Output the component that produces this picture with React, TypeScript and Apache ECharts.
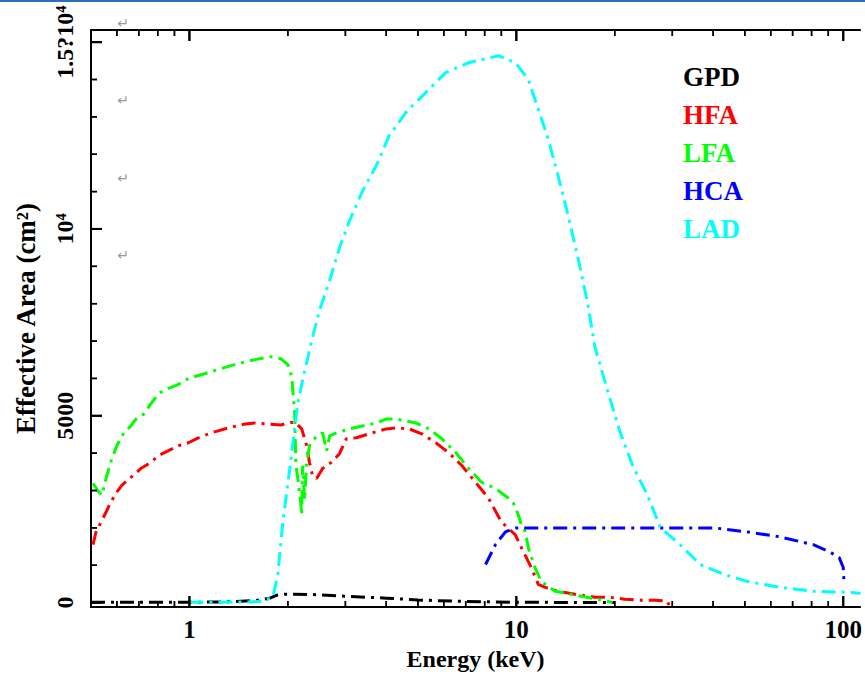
import React, { useEffect, useRef } from "react";
import * as echarts from "echarts";

// ---- data (energy in keV, effective area in cm^2) ----
const gpdE = [0.5, 0.7, 1.0, 1.3, 1.6, 1.75, 1.85, 1.95, 2.1, 2.5, 3.0, 4.0, 5.0, 7.0, 10, 14, 20];
const gpdA = [10, 10, 10, 20, 60, 110, 200, 225, 225, 210, 170, 120, 70, 30, 10, 5, 0];

const hfaE = [0.507, 0.518, 0.537, 0.556, 0.575, 0.596, 0.621, 0.662, 0.71, 0.761, 0.805, 0.863, 0.926, 0.993, 1.065, 1.166, 1.314, 1.48, 1.587, 1.739, 1.904, 2.0, 2.1, 2.205, 2.284, 2.33, 2.38, 2.45, 2.555, 2.74, 2.877, 3.02, 3.24, 3.62, 4.0, 4.29, 4.7, 5.14, 5.67, 6.21, 6.81, 7.51, 8.22, 9.0, 9.93, 10.36, 11.11, 11.67, 12.25, 13.42, 15.11, 17.38, 19.04, 21.45, 23.99, 26.45, 28.97, 29.4];
const hfaA = [1550, 1894, 2159, 2424, 2689, 2927, 3139, 3351, 3589, 3748, 3934, 4066, 4199, 4278, 4411, 4543, 4676, 4782, 4808, 4782, 4755, 4808, 4835, 4649, 4199, 3748, 3404, 3324, 3589, 3775, 3987, 4384, 4411, 4543, 4649, 4676, 4649, 4517, 4278, 4013, 3669, 3219, 2795, 2159, 1815, 1470, 940, 490, 410, 305, 225, 146, 146, 93, 66, 66, 40, -100];

const lfaE = [0.507, 0.529, 0.54, 0.559, 0.579, 0.6, 0.63, 0.662, 0.69, 0.725, 0.761, 0.805, 0.863, 0.926, 0.993, 1.118, 1.251, 1.409, 1.587, 1.763, 1.904, 2.0, 2.056, 2.07, 2.1, 2.115, 2.145, 2.19, 2.205, 2.22, 2.25, 2.28, 2.33, 2.45, 2.555, 2.63, 2.684, 2.818, 3.086, 3.38, 3.73, 4.0, 4.29, 4.6, 4.93, 5.4, 5.92, 6.53, 7.15, 7.83, 8.63, 9.46, 9.79, 10.14, 10.36, 10.65, 10.88, 11.4, 11.91, 12.25, 13.14, 13.7, 15.76, 17.76, 19.45, 19.7];
const lfaA = [3192, 2954, 2874, 3404, 3854, 4199, 4543, 4729, 4941, 5046, 5311, 5602, 5735, 5841, 6000, 6133, 6265, 6397, 6503, 6583, 6530, 6371, 6053, 5709, 5073, 3748, 3324, 2689, 2345, 3669, 2742, 3669, 4199, 4464, 4543, 4066, 4464, 4543, 4649, 4729, 4808, 4914, 4914, 4861, 4808, 4649, 4384, 4013, 3589, 3219, 3059, 2795, 2662, 2345, 2080, 1894, 1470, 940, 570, 490, 305, 278, 172, 93, 13, 0];

const hcaE = [8.05, 8.63, 9.26, 9.93, 11.1, 15.76, 25.2, 40.3, 50.7, 63.9, 81.0, 90.7, 97.2, 100, 100.5];
const hcaA = [1020, 1550, 1894, 2000, 2000, 2000, 2000, 2000, 1894, 1762, 1550, 1364, 1205, 940, 570];

const ladE = [1.0, 1.5, 1.68, 1.8, 1.864, 1.931, 2.028, 2.145, 2.221, 2.382, 2.5, 2.684, 2.877, 3.086, 3.38, 3.73, 4.08, 4.6, 5.29, 6.08, 7.15, 8.82, 9.93, 10.88, 11.67, 12.51, 13.42, 14.39, 15.43, 16.55, 17.38, 19.04, 20.71, 22.68, 25.19, 27.6, 31.7, 36.5, 43.2, 50.7, 63.9, 81.0, 102, 113];
const ladA = [10, 15, 40, 146, 755, 2159, 3589, 5338, 5974, 7113, 7828, 8623, 9497, 10212, 11007, 11695, 12490, 13126, 13656, 14185, 14450, 14636, 14450, 14000, 13205, 12411, 11430, 10371, 9232, 7987, 6848, 5656, 4596, 3669, 2874, 2000, 1550, 1020, 755, 570, 410, 305, 278, 252];

const seriesNames = ["GPD", "HFA", "LFA", "HCA", "LAD"];
const seriesColors = ["#000000", "#ff0000", "#00ff00", "#0000ff", "#00ffff"];

const yMinorTicks = [1000, 2000, 3000, 4000, 6000, 7000, 8000, 9000, 11000, 12000, 13000, 14000];
const yMajorTicks = [0, 5000, 10000, 15000];
const yTickLabels = ["0", "5000", "10⁴", "1.5?10⁴"];

const xMinorTicks = [0.6, 0.7, 0.8, 0.9, 2, 3, 4, 5, 6, 7, 8, 9, 20, 30, 40, 50, 60, 70, 80, 90];
const xMajorTicks = [1, 10, 100];

const X_MIN = 0.5;
const X_MAX = 112.6;
const Y_MIN = -120;
const Y_MAX = 15325;

const FONT = "Liberation Serif";
const MINOR_LEN = 6;
const MAJOR_LEN = 11;

// tick marks as thin rect symbols, placed by the axes' own scales
function tickSeries(data: number[][], size: number[], offset: number[]) {
  return {
    name: "GPD",
    type: "scatter",
    xAxisIndex: 0,
    yAxisIndex: 0,
    silent: true,
    clip: false,
    z: 5,
    symbol: "rect",
    symbolSize: size,
    symbolOffset: offset,
    itemStyle: { color: "#000000", opacity: 1 },
    data,
  };
}

export default function App() {
  const ref = useRef<HTMLDivElement>(null);

  useEffect(() => {
    document.body.style.margin = "0";
    if (!ref.current) return;
    const chart = echarts.init(ref.current, undefined, { renderer: "svg" });

    const sets = [
      [gpdE, gpdA],
      [hfaE, hfaA],
      [lfaE, lfaA],
      [hcaE, hcaA],
      [ladE, ladA],
    ];

    const baseGraphic: any[] = [
      { type: "rect", left: 0, top: 0, shape: { width: 865, height: 2 }, style: { fill: "#2a6fbb" }, silent: true },
      ...[23, 100, 178, 255].map((y) => ({
        type: "text",
        x: 123,
        y,
        style: {
          text: "↵",
          fill: "#9a9a9a",
          font: "14px 'DejaVu Sans'",
          textAlign: "center",
          textVerticalAlign: "middle",
        },
        silent: true,
      })),
    ];

    const makeOption = (graphic: any[]): any => ({
      animation: false,
      backgroundColor: "#ffffff",
      grid: { left: 91, right: 0, top: 30, bottom: 63, containLabel: false },
      legend: {
        orient: "vertical",
        left: 673,
        top: 57,
        itemWidth: 0,
        itemHeight: 0,
        itemGap: 8,
        selectedMode: false,
        textStyle: { fontFamily: FONT, fontWeight: "bold", fontSize: 27, lineHeight: 30 },
        data: seriesNames.map((n, i) => ({ name: n, icon: "none", textStyle: { color: seriesColors[i] } })),
      },
      xAxis: [
        {
          type: "log",
          logBase: 10,
          position: "bottom",
          min: X_MIN,
          max: X_MAX,
          name: "Energy (keV)",
          nameLocation: "middle",
          nameGap: 38,
          nameTextStyle: { fontFamily: FONT, fontWeight: "bold", fontSize: 24, color: "#000" },
          axisLine: { show: true, onZero: false, lineStyle: { color: "#000", width: 2 } },
          axisTick: { show: false },
          splitLine: { show: false },
          minorTick: { show: false },
          axisLabel: {
            show: true,
            showMinLabel: false,
            showMaxLabel: false,
            margin: 10,
            fontFamily: FONT,
            fontWeight: "bold",
            fontSize: 25,
            color: "#000",
            formatter: (v: number) => {
              const r = Math.round(v);
              return xMajorTicks.includes(r) && Math.abs(v - r) < 1e-6 ? String(r) : "";
            },
          },
        },
        {
          type: "log",
          logBase: 10,
          position: "top",
          min: X_MIN,
          max: X_MAX,
          axisLine: { show: true, onZero: false, lineStyle: { color: "#000", width: 2 } },
          axisTick: { show: false },
          axisLabel: { show: false },
          splitLine: { show: false },
          minorTick: { show: false },
        },
      ],
      yAxis: [
        {
          type: "value",
          position: "left",
          min: Y_MIN,
          max: Y_MAX,
          name: "Effective Area (cm²)",
          nameLocation: "middle",
          nameGap: 52,
          nameTextStyle: { fontFamily: FONT, fontWeight: "bold", fontSize: 27, color: "#000" },
          axisLine: { show: true, onZero: false, lineStyle: { color: "#000", width: 2 } },
          axisTick: { show: false },
          axisLabel: {
            show: true,
            customValues: yMajorTicks,
            rotate: 90,
            margin: 14,
            fontFamily: FONT,
            fontWeight: "bold",
            fontSize: 24,
            color: "#000",
            formatter: (v: number) => {
              const idx = yMajorTicks.indexOf(Math.round(v));
              return idx >= 0 ? yTickLabels[idx] : "";
            },
          },
          splitLine: { show: false },
        },
      ],
      graphic,
      series: [
        ...sets.map(([xs, ys], i) => ({
          name: seriesNames[i],
          type: "line",
          xAxisIndex: 0,
          yAxisIndex: 0,
          showSymbol: false,
          symbol: "none",
          smooth: false,
          clip: true,
          data: xs.map((x, k) => [x, ys[k]]),
          itemStyle: { color: seriesColors[i] },
          lineStyle: { color: seriesColors[i], width: 3, type: [14, 6, 3, 6] },
        })),
        tickSeries(xMinorTicks.map((v) => [v, Y_MIN]), [1.5, MINOR_LEN], [0, -MINOR_LEN / 2]),
        tickSeries(xMajorTicks.map((v) => [v, Y_MIN]), [2, MAJOR_LEN], [0, -MAJOR_LEN / 2]),
        tickSeries(xMinorTicks.map((v) => [v, Y_MAX]), [1.5, MINOR_LEN], [0, MINOR_LEN / 2]),
        tickSeries(xMajorTicks.map((v) => [v, Y_MAX]), [2, MAJOR_LEN], [0, MAJOR_LEN / 2]),
        tickSeries(yMinorTicks.map((v) => [X_MIN, v]), [MINOR_LEN, 1.5], [MINOR_LEN / 2, 0]),
        tickSeries(yMajorTicks.map((v) => [X_MIN, v]), [MAJOR_LEN, 2], [MAJOR_LEN / 2, 0]),
      ],
    });

    // first pass: lay out the grid, then read tick positions from its scales
    chart.setOption(makeOption(baseGraphic));

    const toPx = (x: number, y: number): number[] | null => {
      try {
        const p: any = chart.convertToPixel({ xAxisIndex: 0, yAxisIndex: 0 }, [x, y]);
        return p && isFinite(p[0]) && isFinite(p[1]) ? [p[0], p[1]] : null;
      } catch (e) {
        return null;
      }
    };
    const tickEls: any[] = [];
    const addTick = (p: number[] | null, dir: string, len: number, w: number) => {
      if (!p) return;
      let shape: any;
      if (dir === "up") shape = { x: p[0] - w / 2, y: p[1] - len, width: w, height: len };
      else if (dir === "down") shape = { x: p[0] - w / 2, y: p[1], width: w, height: len };
      else shape = { x: p[0], y: p[1] - w / 2, width: len, height: w };
      tickEls.push({ type: "rect", silent: true, z: 50, shape, style: { fill: "#000" } });
    };
    xMinorTicks.forEach((v) => {
      addTick(toPx(v, Y_MIN), "up", MINOR_LEN, 1.5);
      addTick(toPx(v, Y_MAX), "down", MINOR_LEN, 1.5);
    });
    xMajorTicks.forEach((v) => {
      addTick(toPx(v, Y_MIN), "up", MAJOR_LEN, 2);
      addTick(toPx(v, Y_MAX), "down", MAJOR_LEN, 2);
    });
    yMinorTicks.forEach((v) => addTick(toPx(X_MIN, v), "right", MINOR_LEN, 1.5));
    yMajorTicks.forEach((v) => addTick(toPx(X_MIN, v), "right", MAJOR_LEN, 2));

    // second pass: rebuild from scratch with the tick marks included
    chart.clear();
    chart.setOption(makeOption(baseGraphic.concat(tickEls)), { notMerge: true });

    return () => chart.dispose();
  }, []);

  return <div ref={ref} style={{ width: 865, height: 676 }} />;
}
